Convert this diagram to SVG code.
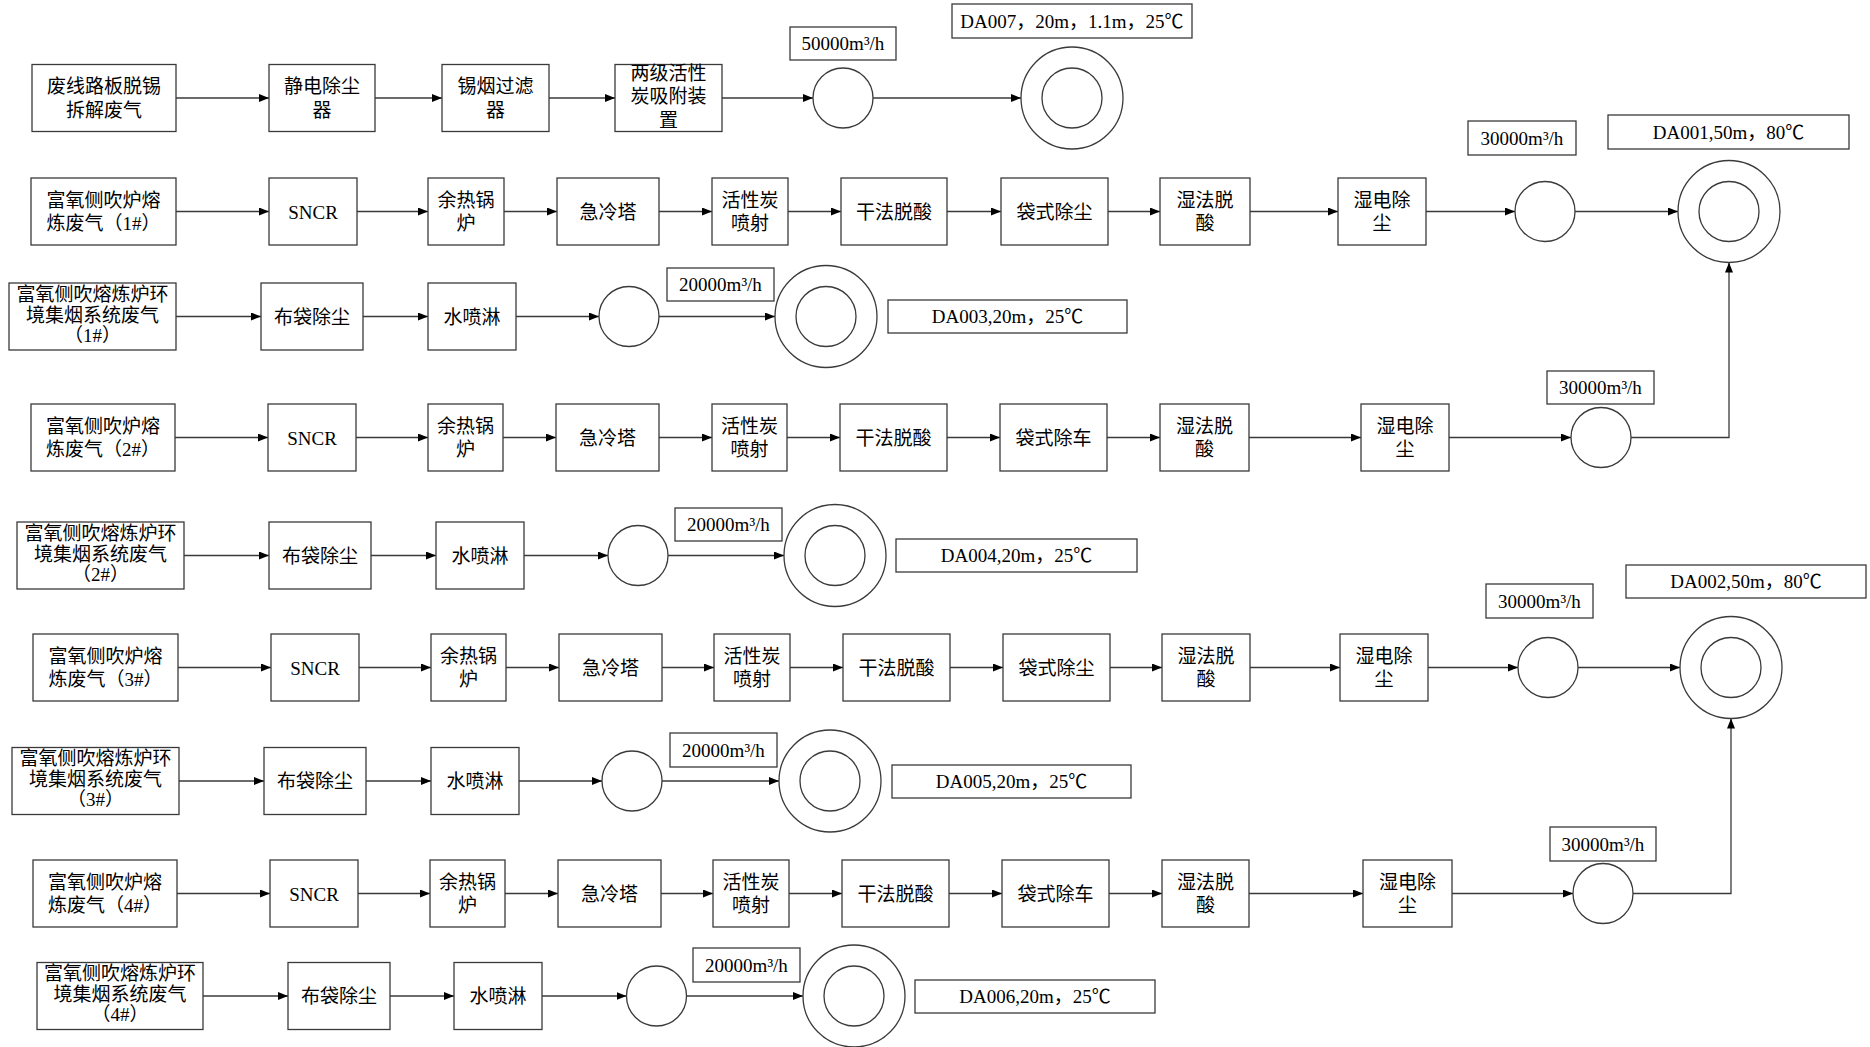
<svg xmlns="http://www.w3.org/2000/svg" width="1870" height="1047" viewBox="0 0 1870 1047">
<style>
.box{fill:#fff;stroke:#3a3a3a;stroke-width:1.3}
.cir{fill:#fff;stroke:#3a3a3a;stroke-width:1.3}
.t{font-family:"Liberation Serif","Noto Sans CJK SC",serif;font-size:19px;text-anchor:middle;fill:#000}
.ln{fill:none;stroke:#3a3a3a;stroke-width:1.3;marker-end:url(#ah)}
</style>
<defs>
<marker id="ah" viewBox="0 0 10 8" refX="10" refY="4" markerWidth="10" markerHeight="8" markerUnits="userSpaceOnUse" orient="auto">
<path d="M0,0 L10,4 L0,8 z" fill="#000"/>
</marker>
</defs>
<rect width="1870" height="1047" fill="#fff"/>

<g id="connectors">
<line class="ln" x1="176" y1="98" x2="269" y2="98"/>
<line class="ln" x1="375" y1="98" x2="442" y2="98"/>
<line class="ln" x1="549" y1="98" x2="615" y2="98"/>
<line class="ln" x1="722" y1="98" x2="813" y2="98"/>
<line class="ln" x1="873" y1="98" x2="1021" y2="98"/>
<line class="ln" x1="176" y1="211.5" x2="269" y2="211.5"/>
<line class="ln" x1="357" y1="211.5" x2="428" y2="211.5"/>
<line class="ln" x1="504" y1="211.5" x2="557" y2="211.5"/>
<line class="ln" x1="659" y1="211.5" x2="712" y2="211.5"/>
<line class="ln" x1="788" y1="211.5" x2="841" y2="211.5"/>
<line class="ln" x1="947" y1="211.5" x2="1001" y2="211.5"/>
<line class="ln" x1="1108" y1="211.5" x2="1160" y2="211.5"/>
<line class="ln" x1="1250" y1="211.5" x2="1338" y2="211.5"/>
<line class="ln" x1="1426" y1="211.5" x2="1515" y2="211.5"/>
<line class="ln" x1="1575" y1="211.5" x2="1678" y2="211.5"/>
<line class="ln" x1="176" y1="316.5" x2="261" y2="316.5"/>
<line class="ln" x1="363" y1="316.5" x2="428" y2="316.5"/>
<line class="ln" x1="516" y1="316.5" x2="599" y2="316.5"/>
<line class="ln" x1="659" y1="316.5" x2="775" y2="316.5"/>
<line class="ln" x1="175" y1="437.5" x2="268" y2="437.5"/>
<line class="ln" x1="356" y1="437.5" x2="428" y2="437.5"/>
<line class="ln" x1="503" y1="437.5" x2="556" y2="437.5"/>
<line class="ln" x1="659" y1="437.5" x2="712" y2="437.5"/>
<line class="ln" x1="787" y1="437.5" x2="840" y2="437.5"/>
<line class="ln" x1="947" y1="437.5" x2="1000" y2="437.5"/>
<line class="ln" x1="1107" y1="437.5" x2="1160" y2="437.5"/>
<line class="ln" x1="1249" y1="437.5" x2="1361" y2="437.5"/>
<line class="ln" x1="1449" y1="437.5" x2="1571" y2="437.5"/>
<path class="ln" d="M1631,437.5 H1729 V262.5"/>
<line class="ln" x1="184" y1="555.5" x2="269" y2="555.5"/>
<line class="ln" x1="371" y1="555.5" x2="436" y2="555.5"/>
<line class="ln" x1="524" y1="555.5" x2="608" y2="555.5"/>
<line class="ln" x1="668" y1="555.5" x2="784" y2="555.5"/>
<line class="ln" x1="178" y1="667.5" x2="271" y2="667.5"/>
<line class="ln" x1="359" y1="667.5" x2="431" y2="667.5"/>
<line class="ln" x1="506" y1="667.5" x2="559" y2="667.5"/>
<line class="ln" x1="662" y1="667.5" x2="714" y2="667.5"/>
<line class="ln" x1="790" y1="667.5" x2="843" y2="667.5"/>
<line class="ln" x1="950" y1="667.5" x2="1003" y2="667.5"/>
<line class="ln" x1="1110" y1="667.5" x2="1162" y2="667.5"/>
<line class="ln" x1="1250" y1="667.5" x2="1340" y2="667.5"/>
<line class="ln" x1="1428" y1="667.5" x2="1518" y2="667.5"/>
<line class="ln" x1="1578" y1="667.5" x2="1680" y2="667.5"/>
<line class="ln" x1="179" y1="781" x2="264" y2="781"/>
<line class="ln" x1="366" y1="781" x2="431" y2="781"/>
<line class="ln" x1="519" y1="781" x2="602" y2="781"/>
<line class="ln" x1="662" y1="781" x2="779" y2="781"/>
<line class="ln" x1="177" y1="893.5" x2="270" y2="893.5"/>
<line class="ln" x1="358" y1="893.5" x2="430" y2="893.5"/>
<line class="ln" x1="505" y1="893.5" x2="558" y2="893.5"/>
<line class="ln" x1="661" y1="893.5" x2="713" y2="893.5"/>
<line class="ln" x1="789" y1="893.5" x2="842" y2="893.5"/>
<line class="ln" x1="949" y1="893.5" x2="1002" y2="893.5"/>
<line class="ln" x1="1109" y1="893.5" x2="1162" y2="893.5"/>
<line class="ln" x1="1249" y1="893.5" x2="1363" y2="893.5"/>
<line class="ln" x1="1452" y1="893.5" x2="1573" y2="893.5"/>
<path class="ln" d="M1633,893.5 H1731 V718.5"/>
<line class="ln" x1="203" y1="996" x2="288" y2="996"/>
<line class="ln" x1="390" y1="996" x2="454" y2="996"/>
<line class="ln" x1="542" y1="996" x2="626.5" y2="996"/>
<line class="ln" x1="686.5" y1="996" x2="803" y2="996"/>
</g>

<!-- ROW 1 -->
<g id="r1-src"><rect class="box" x="32" y="64.5" width="144" height="67"/><text class="t" x="104" y="93">废线路板脱锡</text><text class="t" x="104" y="116.5">拆解废气</text></g>
<g id="r1-esp"><rect class="box" x="269" y="64.5" width="106" height="67"/><text class="t" x="322" y="93">静电除尘</text><text class="t" x="322" y="116.5">器</text></g>
<g id="r1-filter"><rect class="box" x="442" y="64.5" width="107" height="67"/><text class="t" x="495.5" y="93">锡烟过滤</text><text class="t" x="495.5" y="116.5">器</text></g>
<g id="r1-ac"><rect class="box" x="615" y="64.5" width="107" height="67"/><text class="t" x="668.5" y="79.5">两级活性</text><text class="t" x="668.5" y="103">炭吸附装</text><text class="t" x="668.5" y="126.5">置</text></g>
<g id="r1-fan"><circle class="cir" cx="843" cy="98" r="30"/></g>
<g id="r1-flow"><rect class="box" x="790" y="27" width="106" height="33"/><text class="t" x="843" y="50">50000m³/h</text></g>
<g id="r1-stack"><circle class="cir" cx="1072" cy="98" r="51"/><circle class="cir" cx="1072" cy="98" r="30"/></g>
<g id="r1-da"><rect class="box" x="952" y="4" width="240" height="34"/><text class="t" x="1072" y="27.5">DA007，20m，1.1m，25℃</text></g>

<!-- ROW 2 -->
<g id="r2-src"><rect class="box" x="31" y="178" width="145" height="67"/><text class="t" x="103.5" y="206.5">富氧侧吹炉熔</text><text class="t" x="103.5" y="230">炼废气（1#）</text></g>
<g id="r2-sncr"><rect class="box" x="269" y="178" width="88" height="67"/><text class="t" x="313" y="218.5">SNCR</text></g>
<g id="r2-boiler"><rect class="box" x="428" y="178" width="76" height="67"/><text class="t" x="466" y="206.5">余热锅</text><text class="t" x="466" y="230">炉</text></g>
<g id="r2-quench"><rect class="box" x="557" y="178" width="102" height="67"/><text class="t" x="608" y="218.5">急冷塔</text></g>
<g id="r2-acinj"><rect class="box" x="712" y="178" width="76" height="67"/><text class="t" x="750" y="206.5">活性炭</text><text class="t" x="750" y="230">喷射</text></g>
<g id="r2-dry"><rect class="box" x="841" y="178" width="106" height="67"/><text class="t" x="894" y="218.5">干法脱酸</text></g>
<g id="r2-bag"><rect class="box" x="1001" y="178" width="107" height="67"/><text class="t" x="1054.5" y="218.5">袋式除尘</text></g>
<g id="r2-wet"><rect class="box" x="1160" y="178" width="90" height="67"/><text class="t" x="1205" y="206.5">湿法脱</text><text class="t" x="1205" y="230">酸</text></g>
<g id="r2-wesp"><rect class="box" x="1338" y="178" width="88" height="67"/><text class="t" x="1382" y="206.5">湿电除</text><text class="t" x="1382" y="230">尘</text></g>
<g id="r2-fan"><circle class="cir" cx="1545" cy="211.5" r="30"/></g>
<g id="r2-flow"><rect class="box" x="1468" y="121" width="108" height="34"/><text class="t" x="1522" y="144.5">30000m³/h</text></g>
<g id="r2-stack"><circle class="cir" cx="1729" cy="211.5" r="51"/><circle class="cir" cx="1729" cy="211.5" r="30"/></g>
<g id="r2-da"><rect class="box" x="1608" y="115" width="241" height="34"/><text class="t" x="1728.5" y="138.5">DA001,50m，80℃</text></g>

<!-- ROW 3 -->
<g id="r3-src"><rect class="box" x="9" y="283" width="167" height="67"/><text class="t" x="92.5" y="300.5">富氧侧吹熔炼炉环</text><text class="t" x="92.5" y="321.5">境集烟系统废气</text><text class="t" x="92.5" y="341.5">（1#）</text></g>
<g id="r3-bag"><rect class="box" x="261" y="283" width="102" height="67"/><text class="t" x="312" y="323.5">布袋除尘</text></g>
<g id="r3-spray"><rect class="box" x="428" y="283" width="88" height="67"/><text class="t" x="472" y="323.5">水喷淋</text></g>
<g id="r3-fan"><circle class="cir" cx="629" cy="316.5" r="30"/></g>
<g id="r3-flow"><rect class="box" x="667" y="268" width="107" height="33"/><text class="t" x="720.5" y="291">20000m³/h</text></g>
<g id="r3-stack"><circle class="cir" cx="826" cy="316.5" r="51"/><circle class="cir" cx="826" cy="316.5" r="30"/></g>
<g id="r3-da"><rect class="box" x="888" y="300" width="239" height="33"/><text class="t" x="1007.5" y="323">DA003,20m，25℃</text></g>

<!-- ROW 4 -->
<g id="r4-src"><rect class="box" x="31" y="404" width="144" height="67"/><text class="t" x="103" y="432.5">富氧侧吹炉熔</text><text class="t" x="103" y="456">炼废气（2#）</text></g>
<g id="r4-sncr"><rect class="box" x="268" y="404" width="88" height="67"/><text class="t" x="312" y="444.5">SNCR</text></g>
<g id="r4-boiler"><rect class="box" x="428" y="404" width="75" height="67"/><text class="t" x="465.5" y="432.5">余热锅</text><text class="t" x="465.5" y="456">炉</text></g>
<g id="r4-quench"><rect class="box" x="556" y="404" width="103" height="67"/><text class="t" x="607.5" y="444.5">急冷塔</text></g>
<g id="r4-acinj"><rect class="box" x="712" y="404" width="75" height="67"/><text class="t" x="749.5" y="432.5">活性炭</text><text class="t" x="749.5" y="456">喷射</text></g>
<g id="r4-dry"><rect class="box" x="840" y="404" width="107" height="67"/><text class="t" x="893.5" y="444.5">干法脱酸</text></g>
<g id="r4-bag"><rect class="box" x="1000" y="404" width="107" height="67"/><text class="t" x="1053.5" y="444.5">袋式除车</text></g>
<g id="r4-wet"><rect class="box" x="1160" y="404" width="89" height="67"/><text class="t" x="1204.5" y="432.5">湿法脱</text><text class="t" x="1204.5" y="456">酸</text></g>
<g id="r4-wesp"><rect class="box" x="1361" y="404" width="88" height="67"/><text class="t" x="1405" y="432.5">湿电除</text><text class="t" x="1405" y="456">尘</text></g>
<g id="r4-fan"><circle class="cir" cx="1601" cy="437.5" r="30"/></g>
<g id="r4-flow"><rect class="box" x="1547" y="371" width="107" height="33"/><text class="t" x="1600.5" y="394">30000m³/h</text></g>

<!-- ROW 5 -->
<g id="r5-src"><rect class="box" x="17" y="522" width="167" height="67"/><text class="t" x="100.5" y="539.5">富氧侧吹熔炼炉环</text><text class="t" x="100.5" y="560.5">境集烟系统废气</text><text class="t" x="100.5" y="580.5">（2#）</text></g>
<g id="r5-bag"><rect class="box" x="269" y="522" width="102" height="67"/><text class="t" x="320" y="562.5">布袋除尘</text></g>
<g id="r5-spray"><rect class="box" x="436" y="522" width="88" height="67"/><text class="t" x="480" y="562.5">水喷淋</text></g>
<g id="r5-fan"><circle class="cir" cx="638" cy="555.5" r="30"/></g>
<g id="r5-flow"><rect class="box" x="675" y="508" width="107" height="33"/><text class="t" x="728.5" y="531">20000m³/h</text></g>
<g id="r5-stack"><circle class="cir" cx="835" cy="555.5" r="51"/><circle class="cir" cx="835" cy="555.5" r="30"/></g>
<g id="r5-da"><rect class="box" x="896" y="539" width="241" height="33"/><text class="t" x="1016.5" y="562">DA004,20m，25℃</text></g>

<!-- ROW 6 -->
<g id="r6-src"><rect class="box" x="33" y="634" width="145" height="67"/><text class="t" x="105.5" y="662.5">富氧侧吹炉熔</text><text class="t" x="105.5" y="686">炼废气（3#）</text></g>
<g id="r6-sncr"><rect class="box" x="271" y="634" width="88" height="67"/><text class="t" x="315" y="674.5">SNCR</text></g>
<g id="r6-boiler"><rect class="box" x="431" y="634" width="75" height="67"/><text class="t" x="468.5" y="662.5">余热锅</text><text class="t" x="468.5" y="686">炉</text></g>
<g id="r6-quench"><rect class="box" x="559" y="634" width="103" height="67"/><text class="t" x="610.5" y="674.5">急冷塔</text></g>
<g id="r6-acinj"><rect class="box" x="714" y="634" width="76" height="67"/><text class="t" x="752" y="662.5">活性炭</text><text class="t" x="752" y="686">喷射</text></g>
<g id="r6-dry"><rect class="box" x="843" y="634" width="107" height="67"/><text class="t" x="896.5" y="674.5">干法脱酸</text></g>
<g id="r6-bag"><rect class="box" x="1003" y="634" width="107" height="67"/><text class="t" x="1056.5" y="674.5">袋式除尘</text></g>
<g id="r6-wet"><rect class="box" x="1162" y="634" width="88" height="67"/><text class="t" x="1206" y="662.5">湿法脱</text><text class="t" x="1206" y="686">酸</text></g>
<g id="r6-wesp"><rect class="box" x="1340" y="634" width="88" height="67"/><text class="t" x="1384" y="662.5">湿电除</text><text class="t" x="1384" y="686">尘</text></g>
<g id="r6-fan"><circle class="cir" cx="1548" cy="667.5" r="30"/></g>
<g id="r6-flow"><rect class="box" x="1486" y="584" width="107" height="34"/><text class="t" x="1539.5" y="607.5">30000m³/h</text></g>
<g id="r6-stack"><circle class="cir" cx="1731" cy="667.5" r="51"/><circle class="cir" cx="1731" cy="667.5" r="30"/></g>
<g id="r6-da"><rect class="box" x="1626" y="565" width="240" height="33"/><text class="t" x="1746" y="588">DA002,50m，80℃</text></g>

<!-- ROW 7 -->
<g id="r7-src"><rect class="box" x="12" y="747.5" width="167" height="67"/><text class="t" x="95.5" y="765">富氧侧吹熔炼炉环</text><text class="t" x="95.5" y="786">境集烟系统废气</text><text class="t" x="95.5" y="806">（3#）</text></g>
<g id="r7-bag"><rect class="box" x="264" y="747.5" width="102" height="67"/><text class="t" x="315" y="788">布袋除尘</text></g>
<g id="r7-spray"><rect class="box" x="431" y="747.5" width="88" height="67"/><text class="t" x="475" y="788">水喷淋</text></g>
<g id="r7-fan"><circle class="cir" cx="632" cy="781" r="30"/></g>
<g id="r7-flow"><rect class="box" x="670" y="733" width="107" height="34"/><text class="t" x="723.5" y="756.5">20000m³/h</text></g>
<g id="r7-stack"><circle class="cir" cx="830" cy="781" r="51"/><circle class="cir" cx="830" cy="781" r="30"/></g>
<g id="r7-da"><rect class="box" x="892" y="765" width="239" height="33"/><text class="t" x="1011.5" y="788">DA005,20m，25℃</text></g>

<!-- ROW 8 -->
<g id="r8-src"><rect class="box" x="33" y="860" width="144" height="67"/><text class="t" x="105" y="888.5">富氧侧吹炉熔</text><text class="t" x="105" y="912">炼废气（4#）</text></g>
<g id="r8-sncr"><rect class="box" x="270" y="860" width="88" height="67"/><text class="t" x="314" y="900.5">SNCR</text></g>
<g id="r8-boiler"><rect class="box" x="430" y="860" width="75" height="67"/><text class="t" x="467.5" y="888.5">余热锅</text><text class="t" x="467.5" y="912">炉</text></g>
<g id="r8-quench"><rect class="box" x="558" y="860" width="103" height="67"/><text class="t" x="609.5" y="900.5">急冷塔</text></g>
<g id="r8-acinj"><rect class="box" x="713" y="860" width="76" height="67"/><text class="t" x="751" y="888.5">活性炭</text><text class="t" x="751" y="912">喷射</text></g>
<g id="r8-dry"><rect class="box" x="842" y="860" width="107" height="67"/><text class="t" x="895.5" y="900.5">干法脱酸</text></g>
<g id="r8-bag"><rect class="box" x="1002" y="860" width="107" height="67"/><text class="t" x="1055.5" y="900.5">袋式除车</text></g>
<g id="r8-wet"><rect class="box" x="1162" y="860" width="87" height="67"/><text class="t" x="1205.5" y="888.5">湿法脱</text><text class="t" x="1205.5" y="912">酸</text></g>
<g id="r8-wesp"><rect class="box" x="1363" y="860" width="89" height="67"/><text class="t" x="1407.5" y="888.5">湿电除</text><text class="t" x="1407.5" y="912">尘</text></g>
<g id="r8-fan"><circle class="cir" cx="1603" cy="893.5" r="30"/></g>
<g id="r8-flow"><rect class="box" x="1550" y="827" width="106" height="34"/><text class="t" x="1603" y="850.5">30000m³/h</text></g>

<!-- ROW 9 -->
<g id="r9-src"><rect class="box" x="37" y="962.5" width="166" height="67"/><text class="t" x="120" y="980">富氧侧吹熔炼炉环</text><text class="t" x="120" y="1001">境集烟系统废气</text><text class="t" x="120" y="1021">（4#）</text></g>
<g id="r9-bag"><rect class="box" x="288" y="962.5" width="102" height="67"/><text class="t" x="339" y="1003">布袋除尘</text></g>
<g id="r9-spray"><rect class="box" x="454" y="962.5" width="88" height="67"/><text class="t" x="498" y="1003">水喷淋</text></g>
<g id="r9-fan"><circle class="cir" cx="656.5" cy="996" r="30"/></g>
<g id="r9-flow"><rect class="box" x="693" y="948" width="107" height="34"/><text class="t" x="746.5" y="971.5">20000m³/h</text></g>
<g id="r9-stack"><circle class="cir" cx="854" cy="996" r="51"/><circle class="cir" cx="854" cy="996" r="30"/></g>
<g id="r9-da"><rect class="box" x="915" y="980" width="240" height="33"/><text class="t" x="1035" y="1003">DA006,20m，25℃</text></g>
</svg>
